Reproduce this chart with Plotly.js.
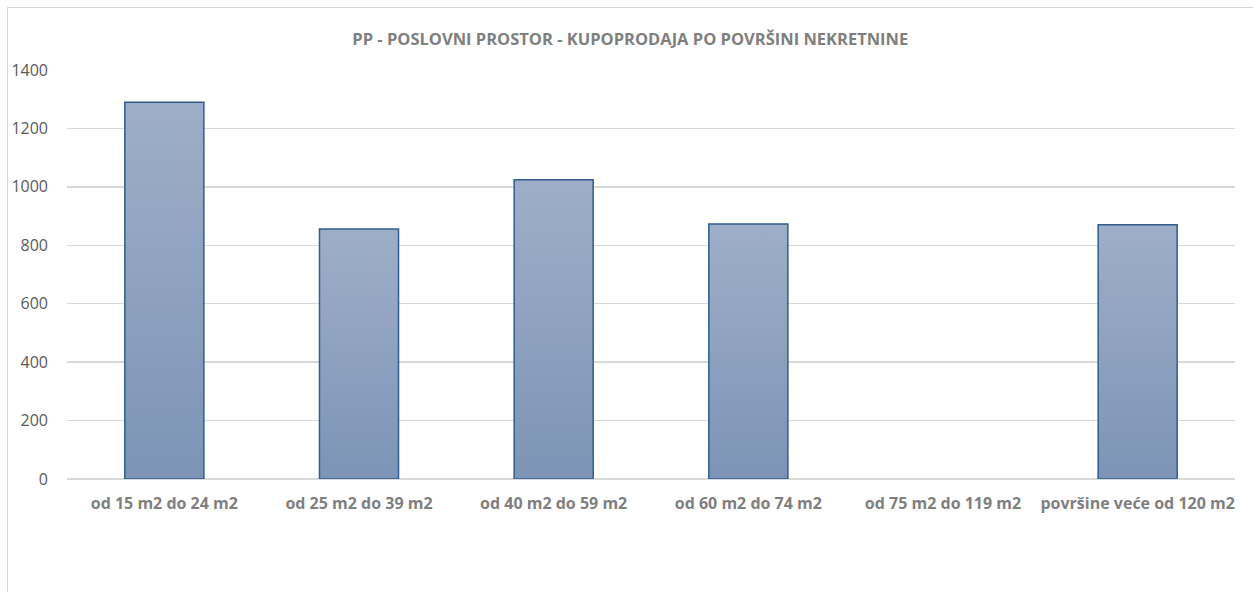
<!DOCTYPE html>
<html><head><meta charset="utf-8">
<script src="https://cdn.plot.ly/plotly-3.0.1.min.js"></script>
<style>
html,body{margin:0;padding:0;background:#fff;}
#frame{position:absolute;left:7px;top:7px;width:1300px;height:620px;border:1.5px solid #d9d9d9;box-sizing:border-box;}
#chart{position:absolute;left:0;top:0;width:1253px;height:592px;}
</style></head>
<body>
<div id="frame"></div>
<div id="chart"></div>
<script>
const categories = ["od 15 m2 do 24 m2","od 25 m2 do 39 m2","od 40 m2 do 59 m2","od 60 m2 do 74 m2","od 75 m2 do 119 m2","površine veće od 120 m2"];
const values = [1290, 856, 1024, 873, null, 870];
const titleText = "PP - POSLOVNI PROSTOR - KUPOPRODAJA PO POVRŠINI NEKRETNINE";

const trace = {
  type: "bar", x: categories, y: values,
  marker: {color: "#8fa2c0", line: {color: "#2e5d8e", width: 1.5}},
  hoverinfo: "x+y"
};
const layout = {
  width: 1253, height: 592,
  paper_bgcolor: "rgba(0,0,0,0)", plot_bgcolor: "rgba(0,0,0,0)",
  margin: {l: 67, r: 18, t: 70, b: 113},
  bargap: 0.594,
  showlegend: false,
  title: {text: "<b>" + titleText + "</b>", x: 0.503, xref: "container", xanchor: "center", y: 0.934, yref: "container", yanchor: "middle",
    font: {family: "Open Sans, Liberation Sans, sans-serif", size: 16.5, color: "#7f7f7f"}},
  xaxis: {type: "category", showgrid: false, zeroline: false, showline: false, ticks: "",
    ticklabelstandoff: 13,
    tickfont: {family: "Open Sans, Liberation Sans, sans-serif", size: 16, color: "#7f7f7f", weight: "bold"}},
  yaxis: {range: [0, 1400], dtick: 200, showgrid: true, gridcolor: "#d9d9d9", gridwidth: 1.5,
    zeroline: true, zerolinecolor: "#d9d9d9", zerolinewidth: 1.5, showline: false, ticks: "",
    ticklabelstandoff: 18,
    tickfont: {family: "Open Sans, Liberation Sans, sans-serif", size: 16, color: "#595959"}}
};
Plotly.newPlot("chart", [trace], layout, {displayModeBar: false, staticPlot: true}).then(function(gd){
  const svg = gd.querySelector("svg.main-svg");
  const ns = "http://www.w3.org/2000/svg";
  let defs = svg.querySelector("defs");
  if (!defs) { defs = document.createElementNS(ns, "defs"); svg.insertBefore(defs, svg.firstChild); }
  const lg = document.createElementNS(ns, "linearGradient");
  lg.setAttribute("id", "barGrad"); lg.setAttribute("x1","0"); lg.setAttribute("y1","0"); lg.setAttribute("x2","0"); lg.setAttribute("y2","1");
  [["0","#9eaec8"],["1","#7d94b6"]].forEach(function(s){
    const st = document.createElementNS(ns, "stop");
    st.setAttribute("offset", s[0]); st.setAttribute("stop-color", s[1]);
    lg.appendChild(st);
  });
  defs.appendChild(lg);
  gd.querySelectorAll(".bars .point path").forEach(function(p){ p.style.fill = "url(#barGrad)"; });
});
</script>
</body></html>
